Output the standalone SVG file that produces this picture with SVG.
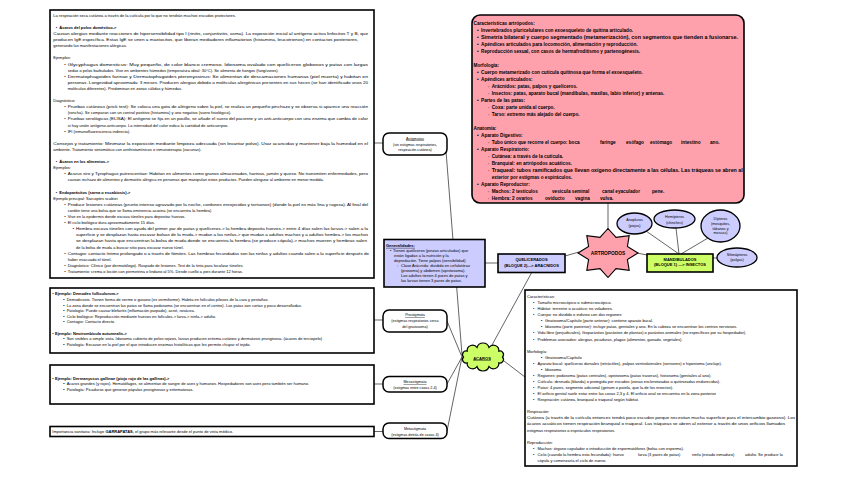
<svg xmlns="http://www.w3.org/2000/svg" width="848" height="477" viewBox="0 0 848 477">
<style>
text{font-family:"Liberation Sans",Arial,sans-serif;fill:#000}
.s{font-size:4px}
.m{font-size:3.7px}
.p{font-size:4.7px;font-weight:bold}
.b{font-weight:bold}
.u{text-decoration:underline}
.c{text-anchor:middle}
.box{fill:#fff;stroke:#000;stroke-width:1.6}
.node{fill:#fff;stroke:#000;stroke-width:1.5}
.lav{fill:#ccccff;stroke:#000;stroke-width:1.6}
.grn{fill:#ccff66;stroke:#000;stroke-width:1.6}
.pink{fill:#ffa1ac;stroke:#000;stroke-width:1.6}
.ell{fill:#ccccff;stroke:#000;stroke-width:1.3}
#connectors line{stroke:#222;stroke-width:0.7}
</style>
<rect width="848" height="477" fill="#fff"/>

<g id="connectors">
<line x1="374" y1="143" x2="383" y2="143"/>
<line x1="374" y1="320" x2="383" y2="320"/>
<line x1="374" y1="384" x2="383" y2="384"/>
<line x1="374" y1="431.5" x2="383" y2="431.5"/>
<line x1="446" y1="151" x2="462" y2="355"/>
<line x1="447" y1="321" x2="462" y2="357"/>
<line x1="447" y1="384" x2="462" y2="357"/>
<line x1="447" y1="431" x2="462" y2="357"/>
<line x1="492" y1="345" x2="532" y2="272"/>
<line x1="504" y1="361" x2="525" y2="377"/>
<line x1="485" y1="263" x2="498" y2="263"/>
<line x1="565" y1="256" x2="579" y2="252"/>
<line x1="637" y1="253" x2="647" y2="255"/>
<line x1="608" y1="203" x2="608" y2="229"/>
<line x1="646" y1="231" x2="679" y2="254"/>
<line x1="676" y1="228" x2="679" y2="254"/>
<line x1="708" y1="238" x2="681" y2="254"/>
<line x1="713" y1="258" x2="717" y2="258"/>
</g>

<g id="n-left-top">
<rect class="box" x="50" y="10" width="324" height="268"/>
<g class="s">
<text x="53.3" y="16.7">La respiración seca cutánea a través de la cutícula por lo que no tendrán muchos escudos protectores.</text>
<text x="55.7" y="28.9">•</text><text x="59.3" y="28.9" class="b">Ácaros del polvo doméstico-&gt;</text>
<text x="53.3" y="35" textLength="314.7" lengthAdjust="spacingAndGlyphs">Causan alergias mediante reacciones de hipersensibilidad tipo I (rinitis, conjuntivitis, asma). La exposición inicial al antígeno activa linfocitos T y B, que</text>
<text x="53.3" y="41.1" textLength="305" lengthAdjust="spacingAndGlyphs">producen IgE específica. Estas IgE se unen a mastocitos, que liberan mediadores inflamatorios (histamina, leucotrienos) en contactos posteriores,</text>
<text x="53.3" y="47.2">generando las manifestaciones alérgicas.</text>
<text x="53.3" y="59.4">Ejemplos:</text>
<text x="64.3" y="65.5">•</text><text x="67.7" y="65.5" textLength="300.3" lengthAdjust="spacingAndGlyphs">Glycyphagus domesticus: Muy pequeño, de color blanco cremoso. Idiosoma ovalado con quelíceros globosos y patas con largas</text>
<text x="67.7" y="71.6">sedas o pelos barbulados. Vive en ambientes húmedos (temperatura ideal: 30°C). Se alimenta de hongos (fungívoros).</text>
<text x="64.3" y="77.7">•</text><text x="67.7" y="77.7" textLength="300.3" lengthAdjust="spacingAndGlyphs">Dermatophagoides farinae y Dermatophagoides pteronyssinus: Se alimentan de descamaciones humanas (piel muerta) y habitan en</text>
<text x="67.7" y="83.8" textLength="300.3" lengthAdjust="spacingAndGlyphs">personas. Longevidad aproximada: 3 meses. Producen alergias debido a moléculas alergénicas presentes en sus heces (se han identificado unos 20</text>
<text x="67.7" y="89.9">moléculas diferentes). Predominan en zonas cálidas y húmedas.</text>
<text x="53.3" y="102.1">Diagnóstico:</text>
<text x="64.3" y="108.2">•</text><text x="67.7" y="108.2" textLength="300.3" lengthAdjust="spacingAndGlyphs">Pruebas cutáneas (prick test): Se coloca una gota de alérgeno sobre la piel, se realiza un pequeño pinchazo y se observa si aparece una reacción</text>
<text x="67.7" y="114.3">(roncha). Se comparan con un control positivo (histamina) y uno negativo (suero fisiológico).</text>
<text x="64.3" y="120.4">•</text><text x="67.7" y="120.4" textLength="300.3" lengthAdjust="spacingAndGlyphs">Pruebas serológicas (ELISA): El antígeno se fija en un pocillo, se añade el suero del paciente y un anti-anticuerpo con una enzima que cambia de color</text>
<text x="67.7" y="126.5">si hay unión antígeno-anticuerpo. La intensidad del color indica la cantidad de anticuerpos.</text>
<text x="64.3" y="132.6">•</text><text x="67.7" y="132.6">IFI (inmunofluorescencia indirecta).</text>
<text x="53.3" y="144.8" textLength="314.7" lengthAdjust="spacingAndGlyphs">Consejos y tratamiento: Minimizar la exposición mediante limpieza adecuada (sin levantar polvo). Usar acaricidas y mantener baja la humedad en el</text>
<text x="53.3" y="150.9">ambiente. Tratamiento sintomático con antihistamínicos o inmunoterapia (vacunas).</text>
<text x="55.7" y="163.1">•</text><text x="59.3" y="163.1" class="b">Ácaros en los alimentos-&gt;</text>
<text x="53.3" y="169.2">Ejemplos:</text>
<text x="64.3" y="175.3">•</text><text x="67.7" y="175.3" textLength="300.3" lengthAdjust="spacingAndGlyphs">Acarus siro y Tyrophagus putrescentiae: Habitan en alimentos como granos almacenados, harinas, jamón y queso. No transmiten enfermedades, pero</text>
<text x="67.7" y="181.4">causan rechazo de alimentos y dermatitis alérgica en personas que manipulan estos productos. Pueden alergizar al ambiente en menor medida.</text>
<text x="55.7" y="193.6">•</text><text x="59.3" y="193.6" class="b">Endoparásitos (sarna o escabiosis)-&gt;</text>
<text x="53.3" y="199.7">Ejemplo principal: Sarcoptes scabiei</text>
<text x="64.3" y="205.8">•</text><text x="67.7" y="205.8" textLength="300.3" lengthAdjust="spacingAndGlyphs">Produce lesiones cutáneas (prurito intenso agravado por la noche, cordones enrojecidos y tortuosos) (donde la piel es más fina y rugosa). Al final del</text>
<text x="67.7" y="211.9">cordón tiene una bolsa que se llama eminencia acarina (se encuentra la hembra)</text>
<text x="64.3" y="218">•</text><text x="67.7" y="218">Vive en la epidermis donde excava túneles para depositar huevos.</text>
<text x="64.3" y="224.1">•</text><text x="67.7" y="224.1">El ciclo biológico dura aproximadamente 15 días.</text>
<text x="72.8" y="230.2">▪</text><text x="76" y="230.2" textLength="292" lengthAdjust="spacingAndGlyphs">Hembra excava túneles con ayuda del primer par de patas y quelíceros-&gt; la hembra deposita huevos-&gt; entre 4 días salen las larvas-&gt; salen a la</text>
<text x="76" y="236.3" textLength="292" lengthAdjust="spacingAndGlyphs">superficie y se desplazan hasta excavar bolsas de la muda-&gt; mudan a las ninfas-&gt; que mudan a adultos machos y a adultos hembra-&gt; los machos</text>
<text x="76" y="242.4" textLength="291" lengthAdjust="spacingAndGlyphs">se desplazan hasta que encuentran la bolsa de muda donde se encuentra la hembra (se produce cópula)-&gt; machos mueren y hembras salen</text>
<text x="76" y="248.5">de la bolsa de muda a buscar sitio para excavar nuevo túnel.</text>
<text x="64.3" y="254.6">•</text><text x="67.7" y="254.6" textLength="301.3" lengthAdjust="spacingAndGlyphs">Contagio: contacto íntimo prolongado o a través de fómites. Las hembras fecundadas son las ninfas y adultos cuando salen a la superficie después de</text>
<text x="67.7" y="260.7">haber evacuado el túnel.</text>
<text x="64.3" y="266.8">•</text><text x="67.7" y="266.8">Diagnóstico: Clínico (por dermatólogo). Raspado de lesiones. Test de la tinta para localizar túneles.</text>
<text x="64.3" y="272.9">•</text><text x="67.7" y="272.9">Tratamiento: crema o loción con permetrina o lindano al 5%. Desde cuello a pies durante 12 horas.</text>
</g>
</g>

<g id="n-demodex">
<rect class="box" x="50" y="288" width="324" height="65"/>
<g class="s">
<text x="52.3" y="295.3">•</text><text x="55" y="295.3" class="b">Ejemplo: Demodex folliculorum-&gt;</text>
<text x="63.3" y="300.9">▪</text><text x="66.7" y="300.9">Demodicosis. Tienen forma de verme o gusano (es vermiforme). Habita en folículos pilosos de la cara y pestañas.</text>
<text x="63.3" y="306.5">▪</text><text x="66.7" y="306.5">La zona donde se encuentran las patas se llama podosoma (se encuentran en el centro). Las patas son cortas y poco desarrolladas.</text>
<text x="63.3" y="312.1">▪</text><text x="66.7" y="312.1">Patología: Puede causar blefaritis (inflamación parpado), acné, rosácea.</text>
<text x="63.3" y="317.7">▪</text><text x="66.7" y="317.7">Ciclo biológico: Reproducción mediante huevos en folículos-&gt; larva-&gt; ninfa-&gt; adulto.</text>
<text x="63.3" y="323.3">▪</text><text x="66.7" y="323.3">Contagio: Contacto directo.</text>
<text x="52.3" y="334.5">•</text><text x="55" y="334.5" class="b">Ejemplo: Neotrombicula autumnalis-&gt;</text>
<text x="63.3" y="340.1">▪</text><text x="66.7" y="340.1">Son visibles a simple vista. Idiosoma cubierto de pelos rojizos, larvas producen eritema cutáneo y dermatosis pruriginosa. (ácaros de terciopelo)</text>
<text x="63.3" y="345.7">▪</text><text x="66.7" y="345.7">Patología: Excavan en la piel por el que introducen enzimas histolíticas que les permite chupar el tejido.</text>
</g>
</g>

<g id="n-dermanyssus">
<rect class="box" x="50" y="365" width="324" height="39"/>
<g class="s">
<text x="52.3" y="379.6">•</text><text x="55" y="379.6" class="b">Ejemplo: Dermanyssus gallinae (piojo rojo de las gallinas)-&gt;</text>
<text x="63.3" y="385.3">▪</text><text x="66.7" y="385.3">Ácaros grandes (y rojos). Hematófagos, se alimentan de sangre de aves y humanos. Hospedadores son aves pero también ser humano.</text>
<text x="63.3" y="391">▪</text><text x="66.7" y="391">Patología: Picaduras que generan pápulas pruriginosas y eritematosas.</text>
</g>
</g>

<g id="n-importancia">
<rect class="box" x="50" y="426.5" width="324" height="10"/>
<text class="s" x="52.3" y="433">Importancia sanitaria: Incluye <tspan class="b">GARRAPATAS,</tspan> el grupo más relevante desde el punto de vista médico.</text>
</g>

<g id="n-astigmatas">
<rect class="node" x="383" y="133" width="64" height="22" rx="6"/>
<g class="m c">
<text x="415" y="139.6" class="u">Astigmatas</text>
<text x="415" y="146.3">(sin estigmas respiratorios,</text>
<text x="415" y="151.3">respiración cutánea)</text>
</g>
</g>

<g id="n-prostigmata">
<rect class="node" x="383" y="310" width="64" height="22" rx="6"/>
<g class="m c">
<text x="415" y="316.3" class="u">Prostigmata</text>
<text x="415" y="322">(estigmas respiratorios cerca</text>
<text x="415" y="328">del gnatosoma)</text>
</g>
</g>

<g id="n-mesostigmata">
<rect class="node" x="383" y="376.5" width="64" height="15.5" rx="6"/>
<g class="m c">
<text x="415" y="383" class="u">Mesostigmata</text>
<text x="415" y="389">(estigmas entre coxas 2-4)</text>
</g>
</g>

<g id="n-metastigmata">
<rect class="node" x="383" y="423" width="64" height="15.5" rx="6"/>
<g class="m c">
<text x="415" y="429.6">Metastigmata</text>
<text x="415" y="435.6">(estigmas detrás de coxas 4)</text>
</g>
</g>

<g id="n-generalidades">
<rect class="lav" x="384" y="239.5" width="101" height="47.5"/>
<g class="s">
<text x="386" y="246.9" class="b u">Generalidades:</text>
<text x="390" y="251.9">•</text><text x="393" y="251.9">Tienen quelíceros (pinzas articuladas) que</text>
<text x="394" y="256.9">están ligadas a la nutrición y la</text>
<text x="394" y="261.9">depredación. Tiene palpos (sensibilidad)</text>
<text x="397" y="266.9">◦</text><text x="401" y="266.9">Clase Arácnida: dividido en cefalotórax</text>
<text x="401" y="271.9">(prosoma) y abdomen (opistosoma).</text>
<text x="401" y="276.9">Los adultos tienen 4 pares de patas y</text>
<text x="401" y="281.9">las larvas tienen 3 pares de patas.</text>
</g>
</g>

<g id="n-quelicerados">
<rect class="lav" x="498" y="254" width="67" height="18.5"/>
<g class="s b c">
<text x="531.5" y="260.8">QUELICERADOS</text>
<text x="531.5" y="266.5">(BLOQUE 2)---&gt; ARACNIDOS</text>
</g>
</g>

<g id="n-artropodos">
<polygon class="pink" style="stroke-width:1.1" points="608,228.5 616,237.3 629.2,235.7 627.4,246.5 638,253 627.4,259.5 629.2,270.3 616,268.7 608,277.5 600,268.7 586.8,270.3 588.6,259.5 578,253 588.6,246.5 586.8,235.7 600,237.3"/>
<text x="608" y="254.8" class="c b" style="font-size:4.8px">ARTROPODOS</text>
</g>

<g id="n-mandibulados">
<rect class="grn" x="647" y="254" width="66" height="18"/>
<g class="s b c">
<text x="680" y="260.6">MANDIBULADOS</text>
<text x="680" y="266.3">(BLOQUE 1) ---&gt; INSECTOS</text>
</g>
</g>

<g id="n-anopluros">
<ellipse class="ell" cx="634.5" cy="223.5" rx="17.5" ry="10.5"/>
<g class="m c"><text x="634.5" y="221.3">Anopluros</text><text x="634.5" y="227">(piojos)</text></g>
</g>
<g id="n-hemipteros">
<ellipse class="ell" cx="674.5" cy="219" rx="20.5" ry="9"/>
<g class="m c"><text x="674.5" y="218">Hemípteros</text><text x="674.5" y="223.6">(chinches)</text></g>
</g>
<g id="n-dipteros">
<ellipse class="ell" cx="720.5" cy="226" rx="19.5" ry="16"/>
<g class="m c"><text x="720.5" y="219.6">Dípteros</text><text x="720.5" y="224.6">(mosquitos,</text><text x="720.5" y="229.6">tábanos y</text><text x="720.5" y="234.4">moscas)</text></g>
</g>
<g id="n-sifonapteros">
<ellipse class="ell" cx="737" cy="257.5" rx="20" ry="9.5"/>
<g class="m c"><text x="737" y="255.6">Sifonápteros</text><text x="737" y="260.8">(pulgas)</text></g>
</g>

<g id="n-acaros">
<path class="grn" style="stroke-width:1.2" d="M502.5,357 A3.6,3.6 0 0 1 498.8,362.9 A5.4,5.4 0 0 1 489,366.5 A6.25,6.25 0 0 1 477,366.5 A5.4,5.4 0 0 1 467.2,362.9 A3.6,3.6 0 0 1 463.5,357 A3.6,3.6 0 0 1 467.2,351.1 A5.4,5.4 0 0 1 477,347.5 A6.25,6.25 0 0 1 489,347.5 A5.4,5.4 0 0 1 498.8,351.1 A3.6,3.6 0 0 1 502.5,357 Z"/>
<text x="482" y="359.5" class="c b u" style="font-size:4.1px">ACAROS</text>
</g>

<g id="n-caracteristicas-artropodos">
<rect class="pink" x="472" y="15" width="272" height="188" rx="8"/>
<g class="p">
<text x="473.5" y="25">Características artrópodos:</text>
<text x="477" y="32">•</text><text x="481" y="32">Invertebrados pluricelulares con exoesqueleto de quitina articulado.</text>
<text x="477" y="39">•</text><text x="481" y="39" textLength="257" lengthAdjust="spacingAndGlyphs">Simetría bilateral y cuerpo segmentado (metamerización), con segmentos que tienden a fusionarse.</text>
<text x="477" y="46">•</text><text x="481" y="46">Apéndices articulados para locomoción, alimentación y reproducción.</text>
<text x="477" y="53">•</text><text x="481" y="53">Reproducción sexual, con casos de hermafroditismo y partenogénesis.</text>
<text x="473.5" y="67">Morfología:</text>
<text x="477" y="74">•</text><text x="481" y="74">Cuerpo metamerizado con cutícula quitinosa que forma el exoesqueleto.</text>
<text x="477" y="81">•</text><text x="481" y="81">Apéndices articulados:</text>
<text x="487.7" y="88">◦</text><text x="491.7" y="88">Arácnidos: patas, palpos y quelíceros.</text>
<text x="487.7" y="95">◦</text><text x="491.7" y="95">Insectos: patas, aparato bucal (mandíbulas, maxilas, labio inferior) y antenas.</text>
<text x="477" y="102">•</text><text x="481" y="102">Partes de las patas:</text>
<text x="487.7" y="109">◦</text><text x="491.7" y="109">Coxa: parte unida al cuerpo.</text>
<text x="487.7" y="116">◦</text><text x="491.7" y="116">Tarso: extremo más alejado del cuerpo.</text>
<text x="473.5" y="130">Anatomía:</text>
<text x="477" y="137">•</text><text x="481" y="137">Aparato Digestivo:</text>
<text x="487.7" y="144">◦</text><text x="491.7" y="144">Tubo único que recorre el cuerpo: boca<tspan x="600">faringe</tspan><tspan x="626">esófago</tspan><tspan x="650">estómago</tspan><tspan x="681">intestino</tspan><tspan x="710">ano.</tspan></text>
<text x="477" y="151">•</text><text x="481" y="151">Aparato Respiratorio:</text>
<text x="487.7" y="158">◦</text><text x="491.7" y="158">Cutánea: a través de la cutícula.</text>
<text x="487.7" y="165">◦</text><text x="491.7" y="165">Branquial: en artrópodos acuáticos.</text>
<text x="487.7" y="172">◦</text><text x="491.7" y="172" textLength="251" lengthAdjust="spacingAndGlyphs">Traqueal: tubos ramificados que llevan oxígeno directamente a las células. Las tráqueas se abren al</text>
<text x="491.7" y="179">exterior por estigmas o espiráculos.</text>
<text x="477" y="186">•</text><text x="481" y="186">Aparato Reproductor:</text>
<text x="487.7" y="193">◦</text><text x="491.7" y="193">Machos: 2 testículos<tspan x="552">vesícula seminal</tspan><tspan x="602">canal eyaculador</tspan><tspan x="652">pene.</tspan></text>
<text x="487.7" y="200">◦</text><text x="491.7" y="200">Hembra: 2 ovarios<tspan x="545">oviducto</tspan><tspan x="575">vagina</tspan><tspan x="600">vulva.</tspan></text>
</g>
</g>

<g id="n-caracteristicas-acaros">
<rect class="box" x="525" y="290" width="272" height="176"/>
<g class="s">
<text x="527" y="298">Características:</text>
<text x="533" y="304.1">•</text><text x="537.5" y="304.1">Tamaño microscópico o submicroscópico.</text>
<text x="533" y="310.1">•</text><text x="537.5" y="310.1">Hábitat: terrestre o acuático; no voladores.</text>
<text x="533" y="316.2">•</text><text x="537.5" y="316.2">Cuerpo: no dividido o indiviso con dos regiones:</text>
<text x="541" y="322.3">▪</text><text x="545" y="322.3">Gnatosoma/Capítulo (parte anterior): contiene aparato bucal.</text>
<text x="541" y="328.3">▪</text><text x="545" y="328.3">Idiosoma (parte posterior): incluye patas, genitales y ano. En la cabeza se encuentran los centros nerviosos.</text>
<text x="533" y="334.4">•</text><text x="537.5" y="334.4">Vida libre (perjudiciales), fitoparásitos (parásitos de plantas) o parásitos animales (no específicos por su hospedador).</text>
<text x="533" y="340.5">•</text><text x="537.5" y="340.5">Problemas asociados: alergias, picaduras, plagas (alimentos, ganado, vegetales).</text>
<text x="527" y="352.6">Morfología:</text>
<text x="541" y="358.7">▪</text><text x="545" y="358.7">Gnatosoma/Capítulo</text>
<text x="533" y="364.8">•</text><text x="537.5" y="364.8">Aparato bucal: quelíceros dorsales (retráctiles), palpos ventrolaterales (sensores) e hipostoma (anclaje).</text>
<text x="541" y="370.8">▪</text><text x="545" y="370.8">Idiosoma</text>
<text x="533" y="376.9">•</text><text x="537.5" y="376.9">Regiones: podosoma (patas centrales), opistosoma (patas traseras), histosoma (genitales al ano).</text>
<text x="533" y="383">•</text><text x="537.5" y="383">Cutícula: desnuda (blanda) o protegida por escudos (zonas esclerotizadas o quitinizadas endurecidas).</text>
<text x="533" y="389">•</text><text x="537.5" y="389">Patas: 4 pares, segmento adicional (genum o patela, que la de los insectos).</text>
<text x="533" y="395.1">•</text><text x="537.5" y="395.1">El orificio genital suele estar entre las coxas 2,3 y 4. El orificio anal se encuentra en la zona posterior</text>
<text x="533" y="401.2">•</text><text x="537.5" y="401.2">Respiración: cutánea, branquial o traqueal según hábitat.</text>
<text x="527" y="413.3">Respiración:</text>
<text x="527" y="419.4" textLength="268" lengthAdjust="spacingAndGlyphs">Cutánea (a través de la cutícula entonces tendrá poco escudos porque necesitan mucha superficie para el intercambio gaseoso). Los</text>
<text x="527" y="425.4" textLength="258" lengthAdjust="spacingAndGlyphs">ácaros acuáticos tienen respiración branquial o traqueal. Las tráqueas se abren al exterior a través de unos orificios llamados</text>
<text x="527" y="431.5">estigmas respiratorios o espiráculos respiratorios.</text>
<text x="527" y="443.7">Reproducción:</text>
<text x="533" y="449.8">•</text><text x="537.5" y="449.8">Machos: órgano copulador o introducción de espermatóforos (bolsa con esperma).</text>
<text x="533" y="455.8">•</text><text x="537.5" y="455.8">Ciclo (cuando la hembra esta fecundada): huevo<tspan x="638">larva (3 pares de patas)</tspan><tspan x="692">ninfa (estado inmaduro)</tspan><tspan x="745">adulto. Se produce la</tspan></text>
<text x="537.5" y="461.9">cópula y comenzaría el ciclo de nuevo.</text>
</g>
</g>
</svg>
